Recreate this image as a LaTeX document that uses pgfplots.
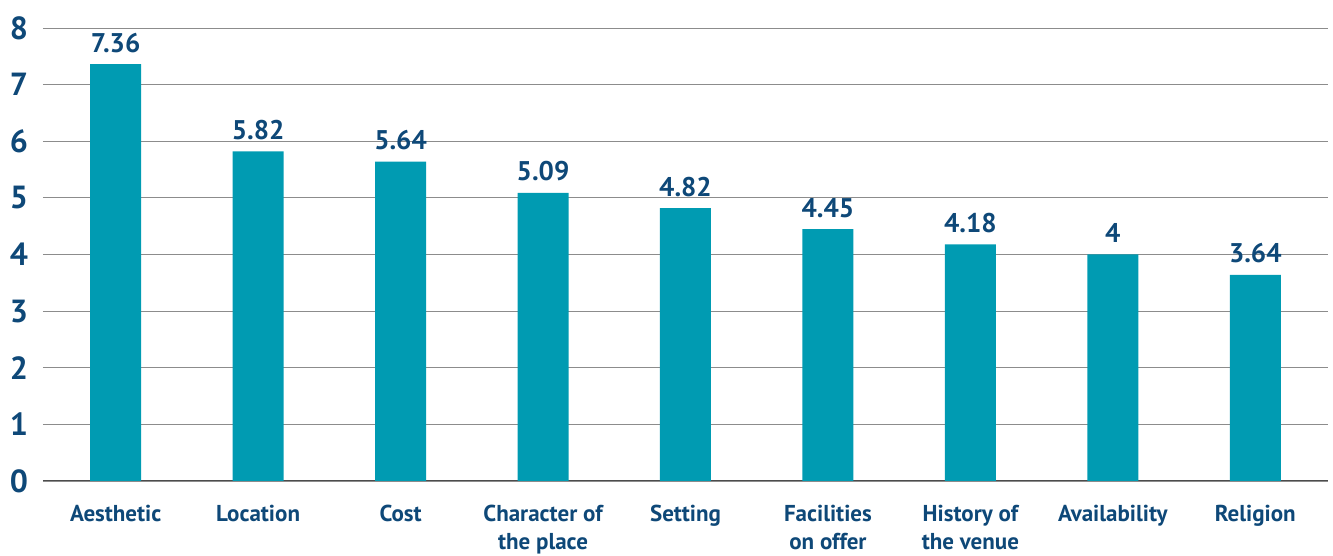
\documentclass[border=0pt]{standalone}
\usepackage{fontspec}
\setmainfont{PT Sans}
\usepackage{pgfplots}
\pgfplotsset{compat=1.18}
\definecolor{barc}{RGB}{0,155,178}
\definecolor{navy}{RGB}{14,72,120}
\begin{document}
\begin{tikzpicture}
\path[use as bounding box] (-43pt,-75pt) rectangle (1290pt,481pt);
\begin{axis}[
  at={(0,0)}, anchor=south west,
  scale only axis, width=1285pt, height=453pt,
  xmin=-0.51, xmax=8.51, ymin=0, ymax=8,
  axis x line*=bottom, axis y line*=left,
  y axis line style={draw=none},
  x axis line style={draw=black!70, line width=1pt},
  ymajorgrids, grid style={draw=black!45, line width=0.8pt},
  major tick length=0pt,
  ytick={0,...,8},
  xtick={0,...,8},
  xticklabels={Aesthetic,Location,Cost,{Character of\\the place},Setting,{Facilities\\on offer},{History of\\the venue},Availability,Religion},
  x tick label style={font=\bfseries\fontsize{23}{28}\selectfont, text=navy, align=center, anchor=north, yshift=-21pt},
  y tick label style={font=\bfseries\fontsize{32}{34}\selectfont, text=navy, anchor=center, xshift=-24pt},
  /pgf/number format/assume math mode=true,
  ybar, bar width=51pt, bar shift=0pt,
  nodes near coords,
  every node near coord/.append style={font=\bfseries\fontsize{27}{29}\selectfont, text=navy, yshift=8pt},
  clip=false,
]
\addplot[fill=barc, draw=none] coordinates {(0,7.36) (1,5.82) (2,5.64) (3,5.09) (4,4.82) (5,4.45) (6,4.18) (7,4) (8,3.64)};
\end{axis}
\end{tikzpicture}
\end{document}
